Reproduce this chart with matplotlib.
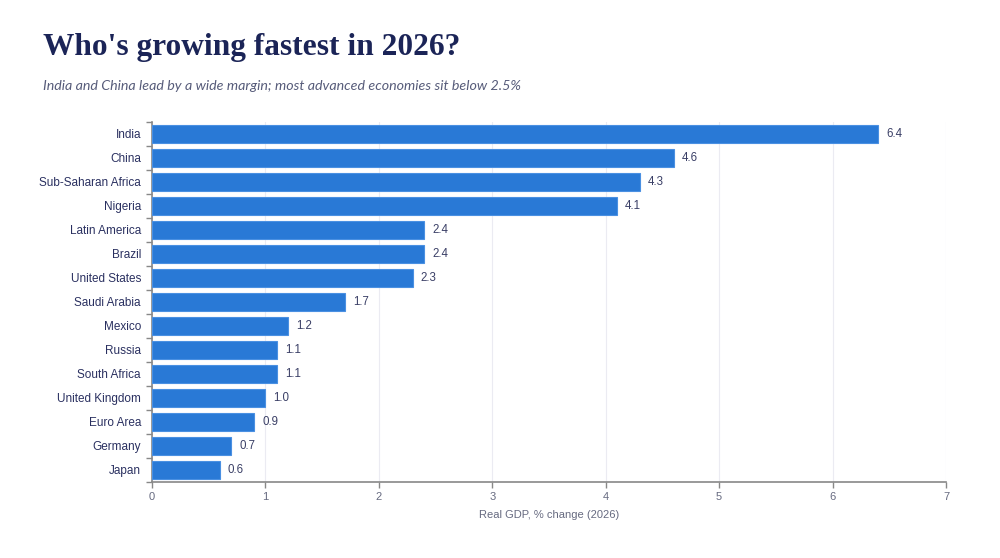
import matplotlib
matplotlib.use("Agg")
import matplotlib.pyplot as plt

categories = ["India", "China", "Sub-Saharan Africa", "Nigeria", "Latin America", "Brazil",
              "United States", "Saudi Arabia", "Mexico", "Russia", "South Africa",
              "United Kingdom", "Euro Area", "Germany", "Japan"]
values = [6.4, 4.6, 4.3, 4.1, 2.4, 2.4, 2.3, 1.7, 1.2, 1.1, 1.1, 1.0, 0.9, 0.7, 0.6]
xticks = [0, 1, 2, 3, 4, 5, 6, 7]

fig = plt.figure(figsize=(10, 5.58), dpi=100)
ax = fig.add_axes([0.152, 0.1362, 0.794, 0.6452])

ypos = list(range(len(categories)))
ax.barh(ypos, values, height=0.72, color="#2979d6", edgecolor="#4a90e2", linewidth=0.8, zorder=3)
for y, v in zip(ypos, values):
    ax.text(v + 0.07, y, f"{v:.1f}", va="center", ha="left", fontsize=8.3,
            color="#3a3f66", family="Liberation Sans")

ax.set_ylim(len(categories) - 0.5, -0.5)
ax.set_xlim(0, 7)
ax.set_yticks(ypos)
ax.set_yticklabels(categories, family="Liberation Sans", fontsize=8.5, color="#2a3060")
ax.set_xticks(xticks)
ax.set_xticklabels([str(t) for t in xticks], family="Liberation Sans", fontsize=8, color="#666a80")
ax.set_yticks([y + 0.5 for y in ypos[:-1]] + [-0.5, len(categories) - 0.5], minor=True)
ax.tick_params(axis="y", which="major", length=0, pad=8)
ax.tick_params(axis="y", which="minor", length=4, color="#888888", width=1)
ax.tick_params(axis="x", length=4, color="#888888", width=1, pad=3)
ax.grid(axis="x", color="#ebebf2", linewidth=0.8, zorder=0)
for s in ["top", "right"]:
    ax.spines[s].set_visible(False)
for s in ["left", "bottom"]:
    ax.spines[s].set_color("#888888")
    ax.spines[s].set_linewidth(1.2)
ax.set_xlabel("Real GDP, % change (2026)", family="Liberation Sans", fontsize=8,
              color="#666a80", labelpad=6)

fig.text(0.043, 0.915, "Who's growing fastest in 2026?", family="Liberation Serif",
         fontweight="bold", fontsize=22.6, color="#1b2457", va="center", ha="left")
fig.text(0.043, 0.846, "India and China lead by a wide margin; most advanced economies sit below 2.5%",
         family="Lato", style="italic", fontsize=10.3, color="#575c7a", va="center", ha="left")

fig.savefig("out.png", dpi=100, facecolor="white")
